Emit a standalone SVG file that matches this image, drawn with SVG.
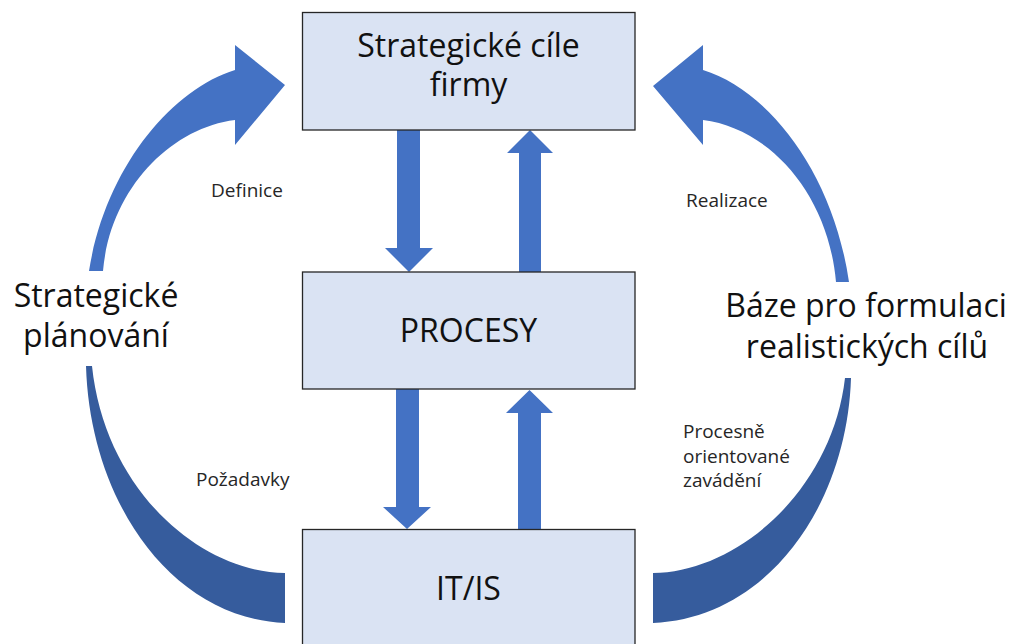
<svg xmlns="http://www.w3.org/2000/svg" width="1013" height="644" viewBox="0 0 1013 644">
  <style>
    .box { fill: #DAE3F3; stroke: #262626; stroke-width: 1.3; }
    .big { font-family: "Open Sans", "Liberation Sans", sans-serif; font-size: 32px; fill: #111111; text-anchor: middle; }
    .small { font-family: "Open Sans", "Liberation Sans", sans-serif; font-size: 19px; fill: #262626; }
    .flow { fill: #4472C4; }
    .arcTop { fill: #4472C4; }
    .arcBottom { fill: #365C9D; }
  </style>
  <rect width="1013" height="644" fill="#FFFFFF"/>

  <!-- connectors: straight block arrows and curved cycle arrows -->
  <g id="connectors">
    <!-- goals -> processes -->
    <polygon class="flow" points="397,130 420,130 420,248 433,248 409,272 385,248 397,248"/>
    <!-- processes -> goals -->
    <polygon class="flow" points="519,272 541,272 541,153 553,153 530,130 507,153 519,153"/>
    <!-- processes -> IT/IS -->
    <polygon class="flow" points="396,389 419,389 419,507 431,507 407,529 383,507 396,507"/>
    <!-- IT/IS -> processes -->
    <polygon class="flow" points="518,529 541,529 541,413 553,413 529.5,390 506,413 518,413"/>

    <!-- left cycle: planning -->
    <path class="arcTop" d="M89,271 C105,170 170,90 235,70 L235,45 L285,85 L235,145 L235,120 C170,128 110,190 103,271 Z"/>
    <path class="arcBottom" d="M86,366 C90,500 170,618 285,623 L285,573 C200,572 105,490 92,366 Z"/>

    <!-- right cycle: realisation -->
    <path class="arcTop" d="M849,282 C833,172 768,90 703,70 L703,45 L653,86 L703,145 L703,120 C768,128 828,192 836,282 Z"/>
    <path class="arcBottom" d="M851,378 C847,505 768,618 653,623 L653,573 C738,572 832,490 845,378 Z"/>
  </g>

  <g id="node-goals">
    <rect class="box" x="302.5" y="12.5" width="332.5" height="117.5"/>
    <text class="big"><tspan x="468.5" y="57">Strategické cíle</tspan><tspan x="468.5" y="96">firmy</tspan></text>
  </g>

  <g id="node-processes">
    <rect class="box" x="302.5" y="272" width="332.5" height="117"/>
    <text class="big" x="468.5" y="342">PROCESY</text>
  </g>

  <g id="node-itis">
    <rect class="box" x="302.5" y="529.5" width="332.5" height="130"/>
    <text class="big" x="468.5" y="600">IT/IS</text>
  </g>

  <g id="label-planning">
    <text class="big"><tspan x="96" y="307">Strategické</tspan><tspan x="96" y="347">plánování</tspan></text>
  </g>

  <g id="label-basis">
    <text class="big"><tspan x="866" y="317">Báze pro formulaci</tspan><tspan x="867" y="358">realistických cílů</tspan></text>
  </g>

  <g id="edge-labels">
    <text class="small" x="211" y="197">Definice</text>
    <text class="small" x="686" y="207">Realizace</text>
    <text class="small" x="196" y="486">Požadavky</text>
    <text class="small"><tspan x="683" y="438">Procesně</tspan><tspan x="683" y="463">orientované</tspan><tspan x="683" y="487">zavádění</tspan></text>
  </g>
</svg>
